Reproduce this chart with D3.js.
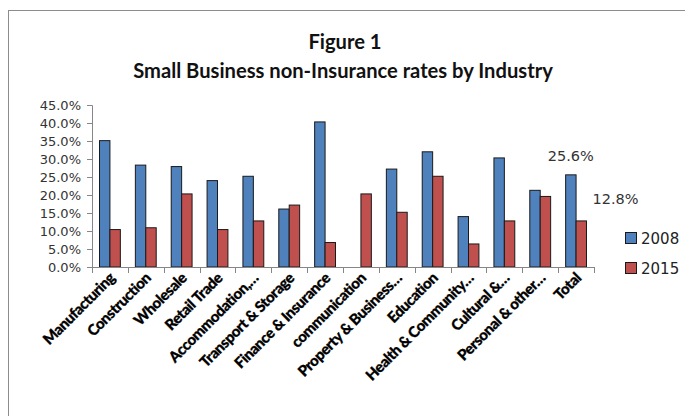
<!DOCTYPE html>
<html>
<head>
<meta charset="utf-8">
<script src="https://cdn.jsdelivr.net/npm/d3@7"></script>
<style>
  html, body { margin: 0; padding: 0; background: #fff; }
  svg { display: block; }
</style>
</head>
<body>
<svg id="chart" width="685" height="416"></svg>
<script>
// Industry categories (axis labels as shown, truncated ones keep their ellipsis)
const categories = [
  "Manufacturing", "Construction", "Wholesale", "Retail Trade",
  "Accommodation,\u2026", "Transport & Storage", "Finance & Insurance",
  "communication", "Property & Business\u2026", "Education",
  "Health & Community\u2026", "Cultural &\u2026", "Personal & other\u2026", "Total"
];
const seriesNames = ["2008", "2015"];
// Non-insurance rates (%)
const rates2008 = [35.1, 28.3, 27.9, 24.0, 25.2, 16.1, 40.3, 0, 27.2, 32.0, 14.0, 30.3, 21.3, 25.6];
const rates2015 = [10.4, 10.9, 20.3, 10.4, 12.8, 17.2, 6.8, 20.3, 15.2, 25.2, 6.4, 12.8, 19.6, 12.8];
const yTicks = [0, 5, 10, 15, 20, 25, 30, 35, 40, 45];
const colors = ["#4F81BD", "#C0504D"];

const svg = d3.select("#chart");

// outer chart frame
svg.append("rect")
  .attr("x", 8.5).attr("y", 10.5)
  .attr("width", 720).attr("height", 440)
  .attr("fill", "#fff").attr("stroke", "#8c8c8c").attr("stroke-width", 1);

// titles
const titleFont = "Lato, 'Open Sans', sans-serif";
const t1 = svg.append("text")
  .attr("x", 345).attr("y", 49)
  .attr("text-anchor", "middle")
  .style("font-family", titleFont).style("font-weight", 700).style("font-size", "18px")
  .attr("fill", "#111")
  .text("Figure 1");
const t2 = svg.append("text")
  .attr("x", 343).attr("y", 78)
  .attr("text-anchor", "middle")
  .style("font-family", titleFont).style("font-weight", 700).style("font-size", "18px")
  .attr("fill", "#111")
  .text("Small Business non-Insurance rates by Industry");
// size the subtitle to span its intended width
{
  const w = t2.node().getComputedTextLength();
  const fs = 18 * 420 / w;
  t2.style("font-size", fs + "px");
  t1.style("font-size", fs + "px");
}

const plot = { left: 92, right: 594, top: 105, bottom: 267 };

const x = d3.scaleBand()
  .domain(categories)
  .range([plot.left, plot.right])
  .paddingInner(0)
  .paddingOuter(0);

const inner = d3.scaleBand()
  .domain(seriesNames)
  .range([0, x.bandwidth()])
  .paddingOuter(0.72)
  .paddingInner(0);

const y = d3.scaleLinear()
  .domain([0, 45])
  .range([plot.bottom, plot.top]);

// y axis
const yAxis = d3.axisLeft(y)
  .tickValues(yTicks)
  .tickSize(5)
  .tickPadding(6)
  .tickFormat(d => d3.format(".1f")(d) + "%");
const gy = svg.append("g")
  .attr("transform", `translate(${plot.left},0)`)
  .call(yAxis);
gy.select(".domain").attr("stroke", "#868686");
gy.selectAll(".tick line").attr("stroke", "#868686");
gy.selectAll(".tick text")
  .style("font-family", "'DejaVu Sans', Verdana, sans-serif")
  .style("font-size", "13px")
  .attr("fill", "#333");

// bars
const data = categories.map((c, i) => ({ cat: c, values: [rates2008[i], rates2015[i]] }));
const groups = svg.append("g").selectAll("g")
  .data(data)
  .join("g")
  .attr("transform", d => `translate(${x(d.cat)},0)`);

groups.selectAll("rect")
  .data(d => d.values.map((v, k) => ({ key: seriesNames[k], v, k })).filter(e => e.v > 0))
  .join("rect")
  .attr("x", e => inner(e.key))
  .attr("width", inner.bandwidth())
  .attr("y", e => y(e.v))
  .attr("height", e => y(0) - y(e.v))
  .attr("fill", e => colors[e.k])
  .attr("stroke", "#1a1a1a")
  .attr("stroke-width", 1);

// x axis: line with tick marks at category boundaries
const gx = svg.append("g");
gx.append("line")
  .attr("x1", plot.left).attr("x2", plot.right)
  .attr("y1", plot.bottom + 0.5).attr("y2", plot.bottom + 0.5)
  .attr("stroke", "#868686");
const boundaries = categories.map(c => x(c)).concat([x(categories[categories.length - 1]) + x.bandwidth()]);
gx.selectAll("line.tk")
  .data(boundaries)
  .join("line")
  .attr("class", "tk")
  .attr("x1", d => Math.round(d) + 0.5).attr("x2", d => Math.round(d) + 0.5)
  .attr("y1", plot.bottom).attr("y2", plot.bottom + 6)
  .attr("stroke", "#868686");

// rotated category labels
gx.selectAll("text")
  .data(categories)
  .join("text")
  .attr("text-anchor", "end")
  .attr("transform", d => `translate(${x(d) + x.bandwidth() / 2 + 6},${plot.bottom + 12}) rotate(-45)`)
  .style("font-family", "Lato, sans-serif")
  .style("font-weight", 900)
  .style("font-size", "15px")
  .style("letter-spacing", "-0.4px")
  .attr("fill", "#000")
  .attr("stroke", "#000")
  .attr("stroke-width", 0.3)
  .text(d => d);

// value labels on the Total bars
const last = categories.length - 1;
const totalX = x(categories[last]);
svg.append("text")
  .attr("x", totalX + inner("2008") + inner.bandwidth() / 2)
  .attr("y", y(rates2008[last]) - 14)
  .attr("text-anchor", "middle")
  .style("font-family", "'DejaVu Sans', Verdana, sans-serif")
  .style("font-size", "14.5px")
  .attr("fill", "#333")
  .text(d3.format(".1f")(rates2008[last]) + "%");
svg.append("text")
  .attr("x", totalX + inner("2015") + inner.bandwidth() + 6)
  .attr("y", y(rates2015[last]) - 17)
  .attr("text-anchor", "start")
  .style("font-family", "'DejaVu Sans', Verdana, sans-serif")
  .style("font-size", "14.5px")
  .attr("fill", "#333")
  .text(d3.format(".1f")(rates2015[last]) + "%");

// legend
const legend = svg.append("g").attr("transform", "translate(625,232)");
const li = legend.selectAll("g")
  .data(seriesNames)
  .join("g")
  .attr("transform", (d, i) => `translate(0,${i * 30})`);
li.append("rect")
  .attr("x", 0.5).attr("y", 0.5)
  .attr("width", 11).attr("height", 11)
  .attr("fill", (d, i) => colors[i])
  .attr("stroke", "#1a1a1a");
li.append("text")
  .attr("x", 16).attr("y", 11.5)
  .style("font-family", "'DejaVu Sans', Verdana, sans-serif")
  .style("font-size", "15px")
  .attr("fill", "#222")
  .text(d => d);
</script>
</body>
</html>
